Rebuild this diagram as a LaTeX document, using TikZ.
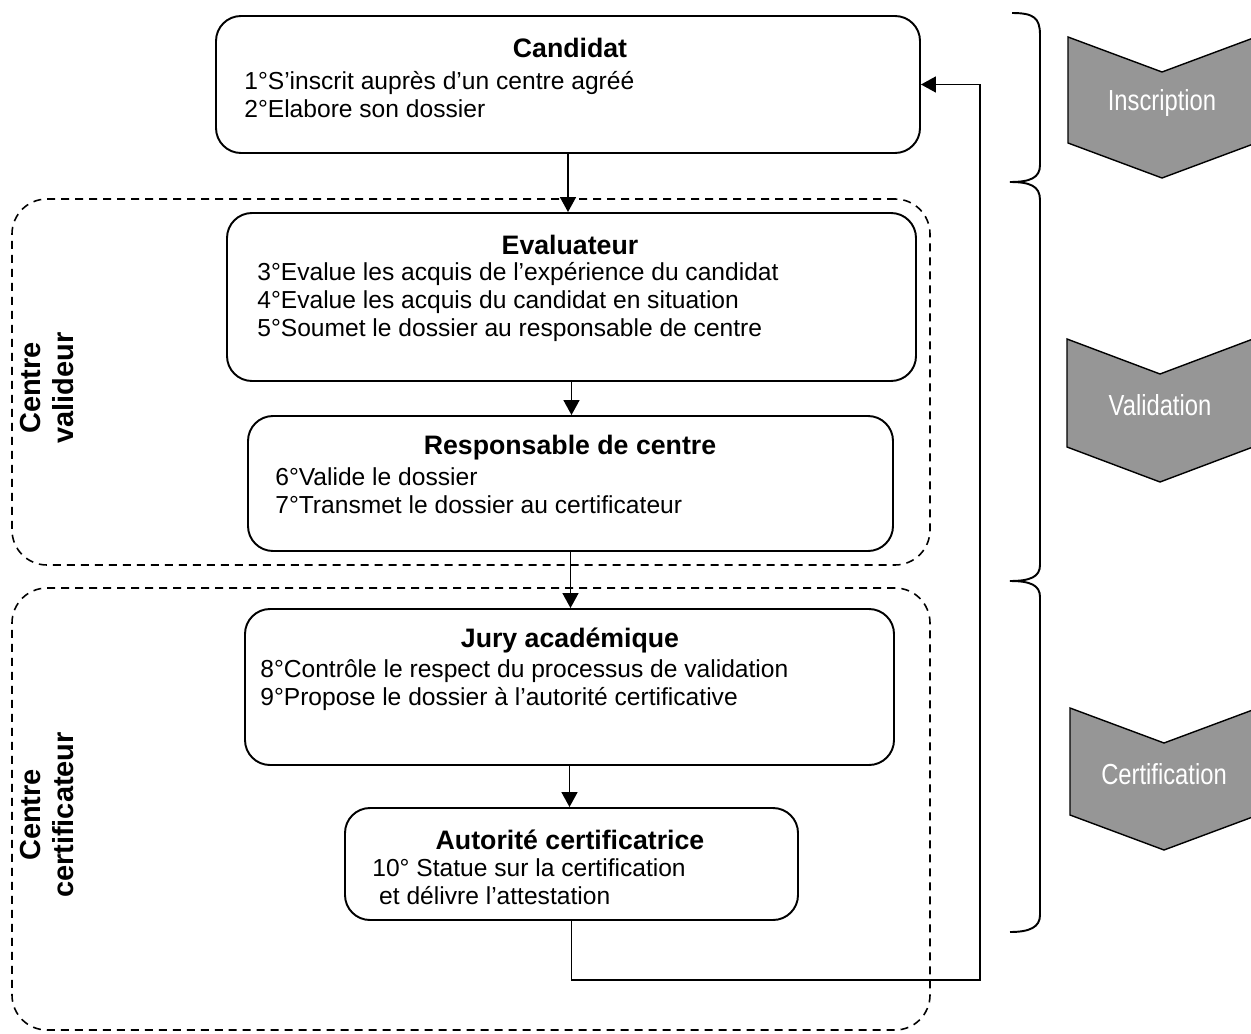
\documentclass[tikz,border=0pt]{standalone}
\usepackage{fontspec}
\setmainfont{Liberation Sans}
\newfontfamily\narrowfont[FakeStretch=0.82]{Liberation Sans}
\usepackage{tikz}
\usetikzlibrary{arrows.meta,fit}

\definecolor{phasegris}{RGB}{150,150,150}

\begin{document}
\begin{tikzpicture}[x=0.02cm,y=-0.02cm,
		etape/.style={draw,line width=1.1pt,rounded corners=0.5cm,inner sep=0pt},
		zone/.style={draw,line width=0.9pt,dash pattern=on 0.16cm off 0.12cm,
			rounded corners=0.7cm,inner sep=0pt},
		titre/.style={font=\fontsize{15.2}{17}\selectfont\bfseries,inner sep=0pt},
		texte/.style={font=\fontsize{14}{15.9}\selectfont,align=left,
			anchor=west,inner sep=0pt},
		fleche/.style={line width=0.9pt,-{Triangle[length=0.3cm,width=0.32cm]}},
		phase/.style={draw,line width=0.8pt,fill=phasegris},
		phasetxt/.style={text=white,font=\narrowfont\fontsize{16.5}{18}\selectfont},
		centre/.style={rotate=90,align=center,
			font=\fontsize{16.5}{18.7}\selectfont\bfseries}]
	\useasboundingbox (0,0) rectangle (1251,1034);

	% les deux centres
	\node[zone,fit={(12,199) (930,565)}] (valideur) {};
	\node[zone,fit={(12,588) (930,1030)}] (certificateur) {};
	\node[centre] (valideur-t) at (47,388) {Centre\\valideur};
	\node[centre] (certificateur-t) at (47,815) {Centre\\certificateur};

	% les etapes
	\node[etape,fit={(216,16) (920,153)}] (cand) {};
	\node[titre] (cand-t) at (570,48) {Candidat};
	\node[texte] (cand-l) at (244,95) {1°S’inscrit auprès d’un centre agréé\\
		2°Elabore son dossier};

	\node[etape,fit={(227,213) (916,381)}] (eval) {};
	\node[titre] (eval-t) at (570,245) {Evaluateur};
	\node[texte] (eval-l) at (257,302) {3°Evalue les acquis de l’expérience du candidat\\
		4°Evalue les acquis du candidat en situation\\
		5°Soumet le dossier au responsable de centre};

	\node[etape,fit={(248,416) (893,551)}] (resp) {};
	\node[titre] (resp-t) at (570,448) {Responsable de centre};
	\node[texte] (resp-l) at (275,491) {6°Valide le dossier\\
		7°Transmet le dossier au certificateur};

	\node[etape,fit={(245,609) (894,765)}] (jury) {};
	\node[titre] (jury-t) at (570,640) {Jury académique};
	\node[texte] (jury-l) at (260,685) {8°Contrôle le respect du processus de validation\\
		9°Propose le dossier à l’autorité certificative};

	\node[etape,fit={(345,808) (798,920)}] (auto) {};
	\node[titre] (auto-t) at (570,840) {Autorité certificatrice};
	\node[texte] (auto-l) at (372,882) {10° Statue sur la certification\\
		\ et délivre l’attestation};

	% fleches
	\draw[fleche] (cand.south) -- (cand.south |- eval.north);
	\draw[fleche] (eval.south) -- (eval.south |- resp.north);
	\draw[fleche] (resp.south) -- (resp.south |- jury.north);
	\draw[fleche] (jury.south) -- (jury.south |- auto.north);
	\coordinate (retour) at (980,980);
	\draw[fleche] (auto.south) |- (retour) |- (cand.east);

	% accolades
	\draw[line width=1.1pt] (1012,13) .. controls (1034,13) and (1040,18) .. (1040,35)
		-- (1040,165) .. controls (1040,178) and (1030,182) .. (1010,182)
		.. controls (1030,182) and (1040,186) .. (1040,200)
		-- (1040,565) .. controls (1040,577) and (1030,581) .. (1010,581)
		.. controls (1030,581) and (1040,585) .. (1040,597)
		-- (1040,915) .. controls (1040,927) and (1030,932) .. (1010,932);

	% phases
	\draw[phase] (1068,37) -- (1162,72) -- (1256,37) -- (1256,143)
		-- (1162,178) -- (1068,143) -- cycle;
	\node[phasetxt] (inscription) at (1162,103) {Inscription};
	\draw[phase] (1067,339) -- (1160,374) -- (1253,339) -- (1253,447)
		-- (1160,482) -- (1067,447) -- cycle;
	\node[phasetxt] (validation) at (1160,405) {Validation};
	\draw[phase] (1070,708) -- (1164,743) -- (1258,708) -- (1258,815)
		-- (1164,850) -- (1070,815) -- cycle;
	\node[phasetxt] (certification) at (1164,774) {Certification};
\end{tikzpicture}
\end{document}
